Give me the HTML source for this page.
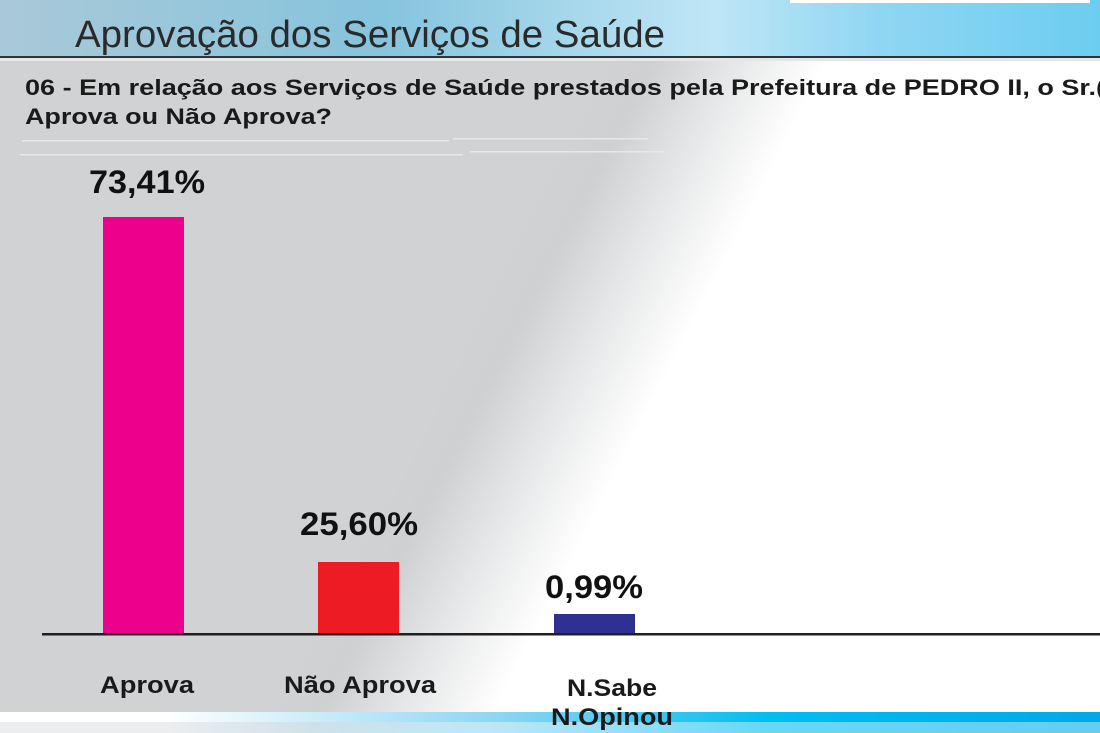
<!DOCTYPE html>
<html><head><meta charset="utf-8"><style>html,body{margin:0;padding:0;background:#fff}svg{display:block}</style></head>
<body>
<svg width="1100" height="733" viewBox="0 0 1100 733" xmlns="http://www.w3.org/2000/svg" font-family="Liberation Sans, Arial, sans-serif">
<defs>
<linearGradient id="bg" gradientUnits="userSpaceOnUse" x1="560" y1="135" x2="742" y2="228">
<stop offset="0" stop-color="#d1d2d4"/><stop offset="0.25" stop-color="#cfd0d2"/><stop offset="0.6" stop-color="#e6e7e8"/><stop offset="1" stop-color="#ffffff"/>
</linearGradient>
<linearGradient id="hd" x1="0" y1="0" x2="1" y2="0">
<stop offset="0" stop-color="#a9c9d8"/><stop offset="0.35" stop-color="#86c4dd"/><stop offset="0.65" stop-color="#bfe6f6"/><stop offset="0.8" stop-color="#8fd6f2"/><stop offset="1" stop-color="#6ccdf0"/>
</linearGradient>
<linearGradient id="ft" x1="0" y1="0" x2="1" y2="0">
<stop offset="0" stop-color="#ffffff"/><stop offset="0.15" stop-color="#ffffff"/><stop offset="0.45" stop-color="#8fd6f2"/><stop offset="0.7" stop-color="#00bdf2"/><stop offset="1" stop-color="#00a9e8"/>
</linearGradient>
</defs>
<rect width="1100" height="733" fill="url(#bg)"/>
<rect width="1100" height="57" fill="url(#hd)"/>
<rect x="790" y="0" width="300" height="3" fill="#fff"/>
<rect x="0" y="56" width="1100" height="2" fill="#333"/>
<rect x="0" y="58" width="1100" height="3" fill="#e5e6e7"/>
<text x="75" y="47" font-size="38" fill="#2a2a2a" textLength="590" lengthAdjust="spacingAndGlyphs">Aprovação dos Serviços de Saúde</text>
<text x="25" y="95" font-size="22" font-weight="bold" fill="#1a1a1a" textLength="1095" lengthAdjust="spacingAndGlyphs">06 - Em relação aos Serviços de Saúde prestados pela Prefeitura de PEDRO II, o Sr.(a</text>
<text x="25" y="124" font-size="22" font-weight="bold" fill="#1a1a1a" textLength="307" lengthAdjust="spacingAndGlyphs">Aprova ou Não Aprova?</text>
<rect x="22" y="140" width="427" height="1.5" fill="#e8e8e8"/>
<rect x="453" y="138" width="195" height="1.5" fill="#e8e8e8"/>
<rect x="20" y="154" width="443" height="1.5" fill="#e8e8e8"/>
<rect x="470" y="151" width="195" height="1.5" fill="#e8e8e8"/>
<rect x="103" y="217" width="81" height="417" fill="#ec008c"/>
<rect x="318" y="562" width="81" height="72" fill="#ed1c24"/>
<rect x="554" y="614" width="81" height="20" fill="#2e3192"/>
<rect x="42" y="633" width="1058" height="2.5" fill="#231f20"/>
<g font-size="32" font-weight="bold" fill="#111" text-anchor="middle">
<text x="147" y="193" textLength="116" lengthAdjust="spacingAndGlyphs">73,41%</text>
<text x="359" y="535" textLength="118" lengthAdjust="spacingAndGlyphs">25,60%</text>
<text x="594" y="598" textLength="98" lengthAdjust="spacingAndGlyphs">0,99%</text>
</g>
<rect x="0" y="712" width="1100" height="10" fill="url(#ft)"/>
<rect x="0" y="722" width="1100" height="11" fill="url(#ft)" opacity="0.6"/>
<g font-size="24" font-weight="bold" fill="#1a1a1a" text-anchor="middle">
<text x="147" y="693" textLength="94" lengthAdjust="spacingAndGlyphs">Aprova</text>
<text x="360" y="693" textLength="152" lengthAdjust="spacingAndGlyphs">Não Aprova</text>
<text x="612" y="696" textLength="90" lengthAdjust="spacingAndGlyphs">N.Sabe</text>
<text x="612" y="725" textLength="122" lengthAdjust="spacingAndGlyphs">N.Opinou</text>
</g>
</svg>
</body></html>
